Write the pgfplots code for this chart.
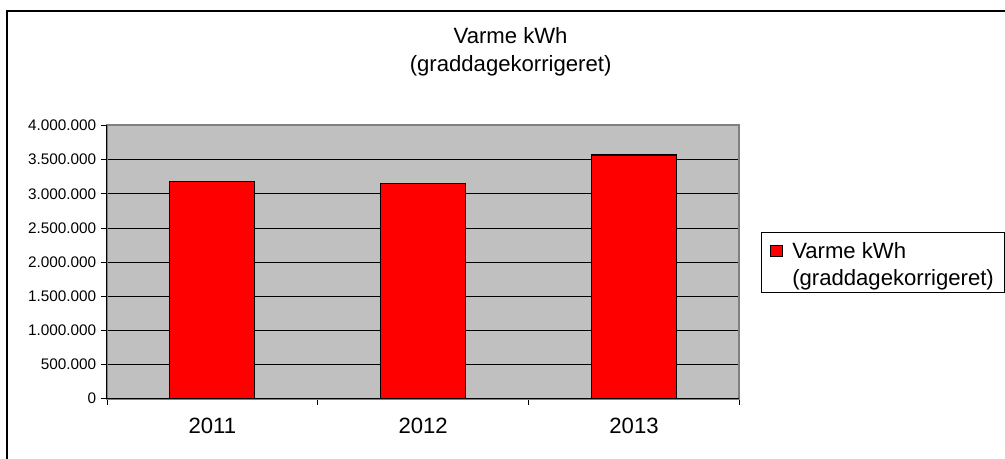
\documentclass[border=0pt]{standalone}
\usepackage{pgfplots}
\pgfplotsset{compat=1.18}
\usepackage{fontspec}
\setmainfont{Liberation Sans}
\definecolor{plotgray}{RGB}{192,192,192}
\definecolor{bordergray}{RGB}{128,128,128}
\begin{document}
\begin{tikzpicture}
\begin{scope}[x=0.75pt,y=0.75pt]
\useasboundingbox (0,0) rectangle (1005,459);
\draw[line width=2.2pt] (7,-20) -- (7,448) -- (1025,448);
\node[anchor=base,font=\fontsize{16.6}{19}\selectfont] at (511,415) {Varme kWh};
\node[anchor=base,font=\fontsize{16.6}{19}\selectfont] at (511,387) {(graddagekorrigeret)};
\end{scope}
\begin{axis}[
  at={(80.25pt,45pt)}, anchor=south west,
  scale only axis, width=474.75pt, height=205.1pt,
  xmin=-0.5, xmax=2.5, ymin=0, ymax=4000000,
  xtick={-0.5,0.5,1.5,2.5}, xticklabels={},
  extra x ticks={0,1,2}, extra x tick labels={2011,2012,2013},
  extra x tick style={major tick length=0pt, grid=none},
  ytick={0,500000,1000000,1500000,2000000,2500000,3000000,3500000,4000000},
  scaled y ticks=false,
  ymajorgrids, grid style={black, line width=0.6pt},
  tick align=outside, major tick length=4.5pt, tick pos=left,
  tick style={black, line width=0.6pt},
  axis background/.style={fill=plotgray},
  axis line style={draw=bordergray, line width=1.5pt},
  after end axis/.code={\draw[black,line width=0.75pt] (rel axis cs:0,1) -- (rel axis cs:0,0) -- (rel axis cs:1,0);},
  yticklabel style={font=\fontsize{11.5}{13}\selectfont},
  xticklabel style={font=\fontsize{16.6}{19}\selectfont, yshift=-11pt},
  /pgf/number format/.cd, fixed, 1000 sep={.}, assume math mode=true,
  /pgfplots/.cd,
  legend style={at={(1.0348,0.6106)}, anchor=north west, draw=black, line width=0.75pt, fill=white,
    font=\fontsize{16.6}{19}\selectfont, inner xsep=6pt, inner ysep=2pt,
    row sep=2.25pt, /tikz/every odd column/.append style={column sep=5pt}},
  legend cell align=left,
]
\addplot[ybar, bar width=63.75pt, fill=red, draw=black, line width=0.9pt,
  legend image code/.code={\draw[fill=red,draw=black,line width=0.75pt] (0pt,-5.5pt) rectangle (9pt,2.75pt);}]
  coordinates {(0,3177000) (1,3145000) (2,3567000)};
\addlegendentry{\rule{0pt}{16pt}Varme kWh}
\addlegendimage{empty legend}
\addlegendentry{(graddagekorrigeret)\hspace{24pt}}
\end{axis}
\end{tikzpicture}
\end{document}
